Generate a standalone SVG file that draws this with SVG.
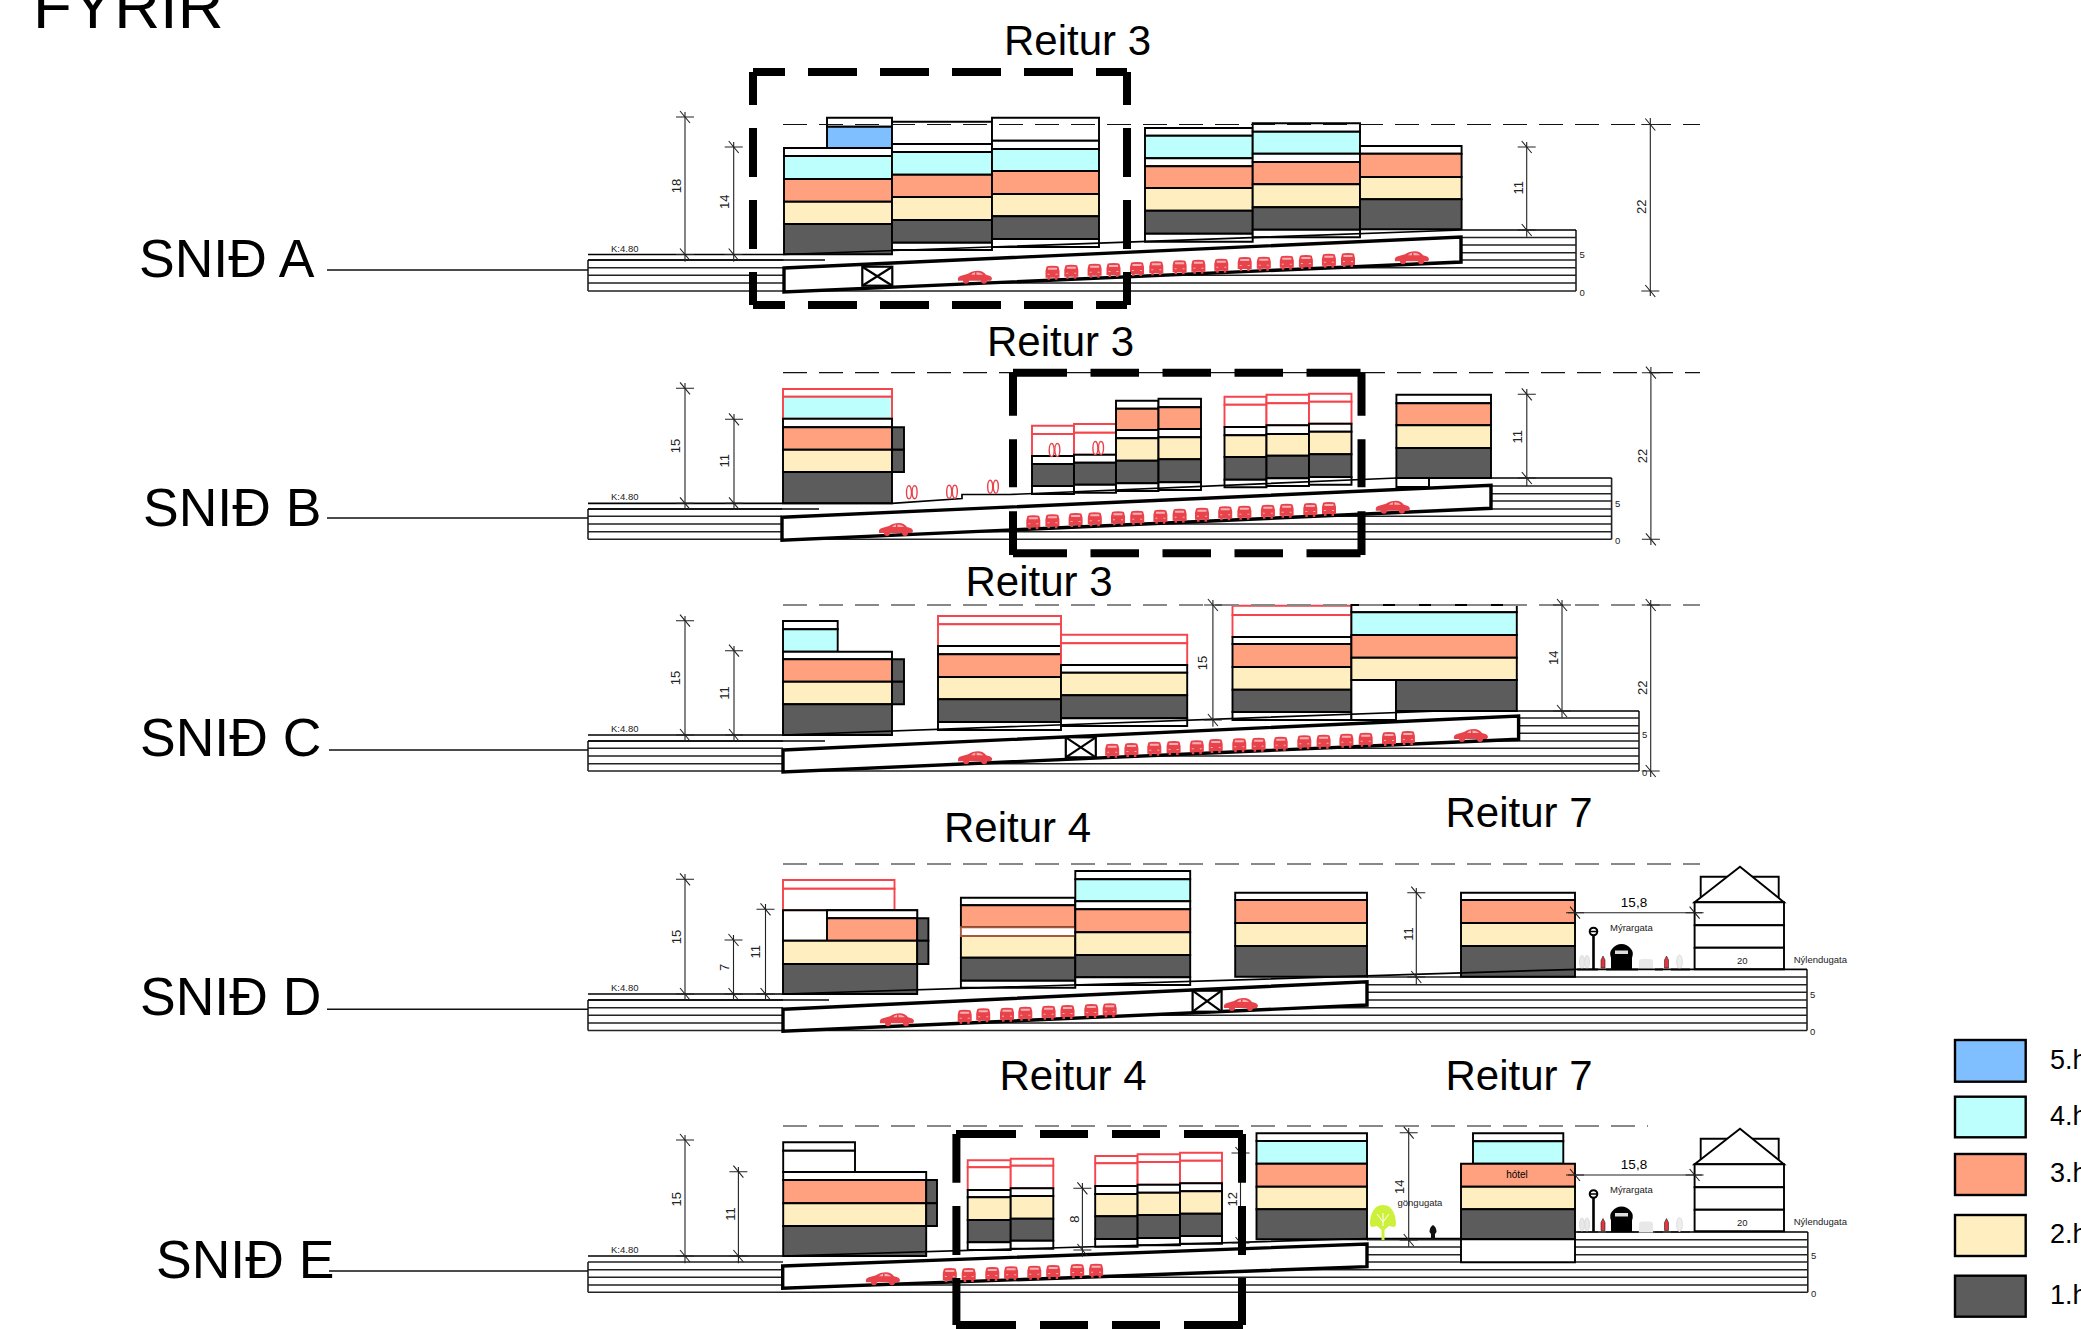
<svg xmlns="http://www.w3.org/2000/svg" width="2081" height="1329" viewBox="0 0 2081 1329">
<style>
text{font-family:"Liberation Sans",Arial,sans-serif;fill:#000}
.bl path{stroke:#000;stroke-width:1.9}
.d{fill:#5c5c5c}.c{fill:#ffeebf}.s{fill:#ffa07f}.y{fill:#bdfffd}.u{fill:#80bfff}.w{fill:#fff}
.bl path.r{fill:#fff;stroke:#f5444c}
.h{stroke:#222;stroke-width:1.6;fill:none}
.g{stroke:#000;stroke-width:1.7;fill:none}
.ramp{stroke:#000;stroke-width:3.4;fill:#fff}
.x{stroke:#000;stroke-width:2.2;fill:#fff}
.box{stroke:#000;stroke-width:8;fill:none}
.dim{stroke:#222;stroke-width:1.1;fill:none}
.lead{stroke:#111;stroke-width:1.6;fill:none}
.da{stroke:#111;stroke-width:1.2;fill:none;stroke-dasharray:24 12}
.db{stroke:#888;stroke-width:2;fill:none;stroke-dasharray:24 12}
.rt{font-size:42px}.sn{font-size:53.5px}
.m{font-size:13px;text-anchor:middle;fill:#222}
.n{font-size:9.5px;fill:#222}
.lg{font-size:27px}
.lr{stroke:#000;stroke-width:2.4}
</style>
<defs>
<g id="car"><path fill="#e8434b" d="M-7-2-6-6Q-5-7 0-7 5-7 6-6L7-2V5H5V7H2.5V5H-2.5V7H-5V5H-7Z"/><path fill="#f9b0b4" d="M-4.5-5H4.500V-3H-4.500ZM-5 1H-3V2H-5ZM3 1H5V2H3Z"/></g>
<g id="bigcar"><path fill="#e8434b" d="M-17 4Q-18 0-14-1L-7-3Q-3-6 3-6 8-6 11-2 17-1 17 2L16 4H12A3 3 0 0 1 6 4H-6A3 3 0 0 1-12 4Z"/><path fill="#f9b0b4" d="M-4-2Q-2-4.500 0-4.500V-2ZM1.500-4.500Q6-4.500 8-2H1.500Z"/></g>
<path id="t" class="dim" d="M-9 0H9M-5-6 5 6"/>
<g id="pp"><ellipse cx="-2.800" cy="0" rx="2.500" ry="6.500" fill="#fff" stroke="#e8434b" stroke-width="1.400"/><ellipse cx="2.800" cy="0" rx="2.500" ry="6.500" fill="#fff" stroke="#e8434b" stroke-width="1.400"/></g>
<g id="furn">
<path d="M1577 969.500H1598M1606 969.500H1638M1655 969.500H1663M1671 969.500H1690" stroke="#222" stroke-width="1.800" fill="none"/>
<ellipse cx="1582" cy="962" rx="2.500" ry="6.500" fill="#e8e8e8" stroke="#ddd"/><ellipse cx="1587" cy="962" rx="2.500" ry="6.500" fill="#e8e8e8" stroke="#ddd"/>
<ellipse cx="1679.500" cy="962" rx="2.800" ry="7" fill="#eee" stroke="#ddd"/>
<path d="M1593.500 935V969" stroke="#000" stroke-width="2.600"/>
<circle cx="1593.500" cy="931.500" r="3.800" fill="#fff" stroke="#000" stroke-width="2"/><path d="M1590 931.500H1597" stroke="#000" stroke-width="1.500"/>
<path d="M1611 969.500V958Q1609 952 1612 949 1616 944 1621.500 944 1627 944 1631 949 1634 952 1632 958V969.500Z" fill="#000"/><rect x="1615" y="950.500" width="13" height="3.500" fill="#ddd"/>
<path d="M1639 970V962Q1639 959 1642 959H1650Q1653 959 1653 962V970Z" fill="#e8e8e8"/>
<path d="M1603 956 1605 960V968H1601V960ZM1666.500 956 1668.500 960V968H1664.500V960Z" fill="#e8333b" stroke="#222" stroke-width=".600"/>
</g>
<g id="house" class="bl">
<path class="w" d="M1700.700 876.700H1778.700V902.300H1700.700Z"/>
<path class="w" d="M1694.600 902.300 1740 866.700 1784 902.300Z"/>
<path class="w" d="M1694.600 902.300H1784V925.300H1694.600Z"/>
<path class="w" d="M1694.600 925.300H1784V947.700H1694.600Z"/>
<path class="w" d="M1694.600 947.700H1784V969.300H1694.600Z"/>
</g>
</defs>
<rect width="2081" height="1329" fill="#fff"/>
<text id="title" x="33" y="28" font-size="63.5">FYRIR</text>

<!-- SECTION A -->
<g id="section-a">
<path class="h" d="M1461 237.500H1576M1461 245H1576M1461 252.700H1576M588 260H1576M588 267.700H1576M588 275.300H1576M588 283H1576M588 291H1576M588 260V291M1576 230V291"/>
<polygon points="783,254.500 1462,230 1461,237 784,268" fill="#fff"/>
<g id="a-b1" class="bl"><path class="w" d="M784 148H892V156H784Z"/><path class="w" d="M827 117.700H892V126.700H827Z"/><path class="u" d="M827 126.700H892V148H827Z"/><path class="y" d="M784 156H892V179H784Z"/><path class="s" d="M784 179H892V201.700H784Z"/><path class="c" d="M784 201.700H892V224H784Z"/><path class="d" d="M784 224H892V254.300H784Z"/></g>
<g id="a-b2" class="bl"><path class="w" d="M892 121.700H992V144H892Z"/><path class="w" d="M892 144H992V152H892Z"/><path class="y" d="M892 152H992V174.700H892Z"/><path class="s" d="M892 174.700H992V197H892Z"/><path class="c" d="M892 197H992V220H892Z"/><path class="d" d="M892 220H992V242.700H892Z"/><path class="w" d="M892 242.700H992V250H892Z"/></g>
<g id="a-b3" class="bl"><path class="w" d="M992 117.700H1099V140.700H992Z"/><path class="w" d="M992 140.700H1099V149H992Z"/><path class="y" d="M992 149H1099V171H992Z"/><path class="s" d="M992 171H1099V194H992Z"/><path class="c" d="M992 194H1099V216.300H992Z"/><path class="d" d="M992 216.300H1099V239H992Z"/><path class="w" d="M992 239H1099V247H992Z"/></g>
<g id="a-b4" class="bl"><path class="w" d="M1145 128H1252.700V135.700H1145Z"/><path class="y" d="M1145 135.700H1252.700V158.300H1145Z"/><path class="w" d="M1145 158.300H1252.700V166.300H1145Z"/><path class="s" d="M1145 166.300H1252.700V188H1145Z"/><path class="c" d="M1145 188H1252.700V210.700H1145Z"/><path class="d" d="M1145 210.700H1252.700V233.700H1145Z"/><path class="w" d="M1145 233.700H1252.700V241.700H1145Z"/></g>
<g id="a-b5" class="bl"><path class="w" d="M1252.700 123.300H1360V131.700H1252.700Z"/><path class="y" d="M1252.700 131.700H1360V153.700H1252.700Z"/><path class="w" d="M1252.700 153.700H1360V162H1252.700Z"/><path class="s" d="M1252.700 162H1360V184.300H1252.700Z"/><path class="c" d="M1252.700 184.300H1360V207.300H1252.700Z"/><path class="d" d="M1252.700 207.300H1360V229.700H1252.700Z"/><path class="w" d="M1252.700 229.700H1360V237.300H1252.700Z"/></g>
<g id="a-b6" class="bl"><path class="w" d="M1360 146H1461.600V153.700H1360Z"/><path class="s" d="M1360 153.700H1461.600V177H1360Z"/><path class="c" d="M1360 177H1461.600V199.300H1360Z"/><path class="d" d="M1360 199.300H1461.600V229.300H1360Z"/></g>
<path class="g" d="M588 254.500H783L1462 230H1576M588 260H825"/>
<polygon class="ramp" points="784,268 1461,237 1461,262 784,292"/>
<g id="a-x"><rect class="x" x="862.300" y="266.700" width="30" height="19"/><path class="x" d="M862.300 266.700 892.300 285.700M892.300 266.700 862.300 285.700"/></g>
<g id="a-cars"><use href="#bigcar" x="975" y="276.700"/><use href="#car" x="1052.500" y="272.700"/><use href="#car" x="1071.300" y="271.700"/><use href="#car" x="1094.600" y="270.700"/><use href="#car" x="1113.500" y="270"/><use href="#car" x="1137" y="269"/><use href="#car" x="1156.300" y="268.300"/><use href="#car" x="1179.600" y="267.300"/><use href="#car" x="1198.400" y="266.700"/><use href="#car" x="1221.300" y="265.700"/><use href="#car" x="1244.700" y="264"/><use href="#car" x="1263.800" y="263.700"/><use href="#car" x="1286.800" y="262.700"/><use href="#car" x="1305.900" y="262"/><use href="#car" x="1328.900" y="260.700"/><use href="#car" x="1348" y="260"/><use href="#bigcar" x="1412" y="257.300"/></g>
</g>

<!-- SECTION B -->
<g id="section-b">
<path class="h" d="M1491 486H1611.600M1491 493.700H1611.600M1491 501H1611.600M588 509H1611.600M588 516.300H1611.600M588 524H1611.600M588 531.700H1611.600M588 539.300H1611.600M588 509V539.300M1611.600 478V539.300"/>
<polygon points="782,503.300 892,503.300 962,498.500 962,494.500 1010,494.500 1397,478 1491,478 1491,485 782,517" fill="#fff"/>
<g id="b-b1" class="bl"><path class="r" d="M783 389H892V396.700H783Z"/><path class="y" style="stroke:#f5444c" d="M783 396.700H892V418.700H783Z"/><path class="w" d="M783 418.700H892V427.300H783Z"/><path class="s" d="M783 427.300H892V449.700H783Z"/><path class="c" d="M783 449.700H892V472H783Z"/><path class="d" d="M783 472H892V503.300H783Z"/><path class="d" d="M892 427.300H904V449.700H892Z"/><path class="d" d="M892 449.700H904V472H892Z"/></g>
<g id="b-c1" class="bl"><path class="r" d="M1032 425.700H1074V434H1032Z"/><path class="r" d="M1032 434H1074V456H1032Z"/><path class="w" d="M1032 456H1074V464H1032Z"/><path class="d" d="M1032 464H1074V486H1032Z"/><path class="w" d="M1032 486H1074V494H1032Z"/></g>
<g id="b-c2" class="bl"><path class="r" d="M1074 424H1116V432.700H1074Z"/><path class="r" d="M1074 432.700H1116V454.700H1074Z"/><path class="w" d="M1074 454.700H1116V462.700H1074Z"/><path class="d" d="M1074 462.700H1116V484.700H1074Z"/><path class="w" d="M1074 484.700H1116V492.700H1074Z"/></g>
<g id="b-c3" class="bl"><path class="w" d="M1116 400.700H1158.500V408.700H1116Z"/><path class="s" d="M1116 408.700H1158.500V430H1116Z"/><path class="w" d="M1116 430H1158.500V438.300H1116Z"/><path class="c" d="M1116 438.300H1158.500V460.700H1116Z"/><path class="d" d="M1116 460.700H1158.500V483.300H1116Z"/><path class="w" d="M1116 483.300H1158.500V491H1116Z"/></g>
<g id="b-c4" class="bl"><path class="w" d="M1158.500 398.700H1201V407.300H1158.500Z"/><path class="s" d="M1158.500 407.300H1201V429H1158.500Z"/><path class="w" d="M1158.500 429H1201V437.300H1158.500Z"/><path class="c" d="M1158.500 437.300H1201V459.300H1158.500Z"/><path class="d" d="M1158.500 459.300H1201V482.300H1158.500Z"/><path class="w" d="M1158.500 482.300H1201V490H1158.500Z"/></g>
<g id="b-c5" class="bl"><path class="r" d="M1224.500 396.700H1266.500V404.700H1224.500Z"/><path class="r" d="M1224.500 404.700H1266.500V427H1224.500Z"/><path class="w" d="M1224.500 427H1266.500V435.300H1224.500Z"/><path class="c" d="M1224.500 435.300H1266.500V457H1224.500Z"/><path class="d" d="M1224.500 457H1266.500V479.700H1224.500Z"/><path class="w" d="M1224.500 479.700H1266.500V487.300H1224.500Z"/></g>
<g id="b-c6" class="bl"><path class="r" d="M1266.500 394.700H1309V403.300H1266.500Z"/><path class="r" d="M1266.500 403.300H1309V425.300H1266.500Z"/><path class="w" d="M1266.500 425.300H1309V434H1266.500Z"/><path class="c" d="M1266.500 434H1309V455.700H1266.500Z"/><path class="d" d="M1266.500 455.700H1309V478.300H1266.500Z"/><path class="w" d="M1266.500 478.300H1309V486H1266.500Z"/></g>
<g id="b-c7" class="bl"><path class="r" d="M1309 393.700H1351.500V401.700H1309Z"/><path class="r" d="M1309 401.700H1351.500V423.700H1309Z"/><path class="w" d="M1309 423.700H1351.500V431.700H1309Z"/><path class="c" d="M1309 431.700H1351.500V454.300H1309Z"/><path class="d" d="M1309 454.300H1351.500V477H1309Z"/><path class="w" d="M1309 477H1351.500V484.700H1309Z"/></g>
<g id="b-c8" class="bl"><path class="w" d="M1396.400 394.700H1491V403.300H1396.400Z"/><path class="s" d="M1396.400 403.300H1491V425.300H1396.400Z"/><path class="c" d="M1396.400 425.300H1491V448H1396.400Z"/><path class="d" d="M1396.400 448H1491V478H1396.400Z"/><path class="w" d="M1396.400 478H1429V487H1396.400Z"/></g>
<path class="g" d="M588 503.300H892L962 498.500V494.500H1010L1397 478H1611.600M588 509H819"/>
<g id="b-people"><use href="#pp" x="911.800" y="492.300"/><use href="#pp" x="952" y="491.700"/><use href="#pp" x="993" y="486.700"/><use href="#pp" x="1054.500" y="450"/><use href="#pp" x="1098.200" y="448"/></g>
<polygon class="ramp" points="782,517.300 1491,485.300 1491,508.300 782,540.300"/>
<g id="b-cars"><use href="#bigcar" x="896" y="529"/><use href="#car" x="1033.300" y="522.300"/><use href="#car" x="1052.400" y="521.300"/><use href="#car" x="1075.600" y="520"/><use href="#car" x="1094.800" y="519.300"/><use href="#car" x="1118" y="518.300"/><use href="#car" x="1137.200" y="517.700"/><use href="#car" x="1160.400" y="516.700"/><use href="#car" x="1179.600" y="515.700"/><use href="#car" x="1202" y="514.700"/><use href="#car" x="1225.200" y="513.300"/><use href="#car" x="1244.400" y="512.700"/><use href="#car" x="1267.900" y="511.700"/><use href="#car" x="1286.600" y="510.700"/><use href="#car" x="1310.300" y="510"/><use href="#car" x="1329" y="509"/><use href="#bigcar" x="1392.900" y="506.700"/></g>
</g>

<!-- SECTION C -->
<g id="section-c">
<path class="h" d="M1518 718H1639M1518 725.700H1639M1518 733.300H1639M588 741H1639M588 748.300H1639M588 756H1639M588 763.700H1639M588 771H1639M588 741V771M1639 711V771"/>
<polygon points="783,735 1440,711 1518,711 1518,716 783,750" fill="#fff"/>
<g id="c-b1" class="bl"><path class="w" d="M783 621H837.700V629.300H783Z"/><path class="y" d="M783 629.300H837.700V651.700H783Z"/><path class="w" d="M783 651.700H892V659.300H783Z"/><path class="s" d="M783 659.300H892V681.700H783Z"/><path class="c" d="M783 681.700H892V704.300H783Z"/><path class="d" d="M783 704.300H892V735H783Z"/><path class="d" d="M892 659.300H904V681.700H892Z"/><path class="d" d="M892 681.700H904V704.300H892Z"/></g>
<g id="c-b2" class="bl"><path class="r" d="M938 616H1061V624.300H938Z"/><path class="r" d="M938 624.300H1061V646H938Z"/><path class="w" d="M938 646H1061V654.300H938Z"/><path class="s" d="M938 654.300H1061V677H938Z"/><path class="c" d="M938 677H1061V699.300H938Z"/><path class="d" d="M938 699.300H1061V722H938Z"/><path class="w" d="M938 722H1061V730H938Z"/></g>
<g id="c-b3" class="bl"><path class="r" d="M1061 634.700H1187.200V643.300H1061Z"/><path class="r" d="M1061 643.300H1187.200V665H1061Z"/><path class="w" d="M1061 665H1187.200V672.700H1061Z"/><path class="c" d="M1061 672.700H1187.200V695.300H1061Z"/><path class="d" d="M1061 695.300H1187.200V718.300H1061Z"/><path class="w" d="M1061 718.300H1187.200V726H1061Z"/></g>
<g id="c-b4" class="bl"><path class="r" d="M1232.500 605.700H1351.400V615H1232.500Z"/><path class="r" d="M1232.500 615H1351.400V637H1232.500Z"/><path class="w" d="M1232.500 637H1351.400V644H1232.500Z"/><path class="s" d="M1232.500 644H1351.400V667H1232.500Z"/><path class="c" d="M1232.500 667H1351.400V689.700H1232.500Z"/><path class="d" d="M1232.500 689.700H1351.400V712H1232.500Z"/><path class="w" d="M1232.500 712H1351.400V720H1232.500Z"/></g>
<g id="c-b5" class="bl"><path class="w" d="M1351.400 605H1516.800V612.300H1351.400Z"/><path class="y" d="M1351.400 612.300H1516.800V635H1351.400Z"/><path class="s" d="M1351.400 635H1516.800V657.700H1351.400Z"/><path class="c" d="M1351.400 657.700H1516.800V680H1351.400Z"/><path class="w" d="M1351.400 680H1396V720H1351.400Z"/><path class="d" d="M1396 680H1516.800V711H1396Z"/></g>
<path class="g" d="M588 735H783L1440 711H1639M588 741H825"/>
<polygon class="ramp" points="783,750 1518.600,716 1518.600,739.300 783,772"/>
<g id="c-x"><rect class="x" x="1065.800" y="737.300" width="30" height="20"/><path class="x" d="M1065.800 737.300 1095.800 757.300M1095.800 737.300 1065.800 757.300"/></g>
<g id="c-cars"><use href="#bigcar" x="975.200" y="757.300"/><use href="#car" x="1112.200" y="750.700"/><use href="#car" x="1131.400" y="750"/><use href="#car" x="1154.300" y="748.700"/><use href="#car" x="1173.600" y="748"/><use href="#car" x="1196.800" y="747.300"/><use href="#car" x="1215.700" y="746"/><use href="#car" x="1239.300" y="745.300"/><use href="#car" x="1258.600" y="744.700"/><use href="#car" x="1280.700" y="743.700"/><use href="#car" x="1304.300" y="742.300"/><use href="#car" x="1323.600" y="741.700"/><use href="#car" x="1346.400" y="740.700"/><use href="#car" x="1365.700" y="739.700"/><use href="#car" x="1389" y="739"/><use href="#car" x="1407.900" y="738"/><use href="#bigcar" x="1471" y="735"/></g>
</g>

<!-- SECTION D -->
<g id="section-d">
<path class="h" d="M1367 977H1807M1367 984.700H1807M1367 992.300H1807M588 1000H1807M588 1007.700H1807M588 1015.300H1807M588 1023H1807M588 1030.500H1807M588 1000V1030.500M1807 969.300V1030.500"/>
<polygon points="783,994 1367,975.800 1367,981.700 783,1009.300" fill="#fff"/>
<g id="d-b1" class="bl"><path class="r" d="M783 880H894.500V888.700H783Z"/><path class="r" d="M783 888.700H894.500V910.300H783Z"/><path class="w" d="M783 910.300H917.200V940.700H783Z"/><path class="w" d="M827 910.300H917.200V918.300H827Z"/><path class="s" d="M827 918.300H917.200V940.700H827Z"/><path class="c" d="M783 940.700H917.200V964H783Z"/><path class="d" d="M783 964H917.200V994H783Z"/><path class="d" d="M917.200 918.300H928.400V940.700H917.200Z"/><path class="d" d="M917.200 940.700H928.400V964H917.200Z"/></g>
<g id="d-b2" class="bl"><path class="w" d="M960.900 897.700H1075.300V905.300H960.900Z"/><path class="s" d="M960.900 905.300H1075.300V927.300H960.900Z"/><path class="c" d="M960.900 936H1075.300V957.700H960.900Z"/><path class="d" d="M960.900 957.700H1075.300V980.700H960.900Z"/><path class="w" d="M960.900 980.700H1075.300V987.700H960.900Z"/><path class="w" style="stroke:#a5583c" d="M960.900 927.300H1075.300V936H960.900Z"/></g>
<g id="d-b3" class="bl"><path class="w" d="M1075.300 871H1190.200V879.300H1075.300Z"/><path class="y" d="M1075.300 879.300H1190.200V901.300H1075.300Z"/><path class="w" d="M1075.300 901.300H1190.200V909.300H1075.300Z"/><path class="s" d="M1075.300 909.300H1190.200V932.300H1075.300Z"/><path class="c" d="M1075.300 932.300H1190.200V955H1075.300Z"/><path class="d" d="M1075.300 955H1190.200V977.300H1075.300Z"/><path class="w" d="M1075.300 977.300H1190.200V985H1075.300Z"/></g>
<g id="d-b4" class="bl"><path class="w" d="M1235.200 892.700H1367V900H1235.200Z"/><path class="s" d="M1235.200 900H1367V923H1235.200Z"/><path class="c" d="M1235.200 923H1367V946H1235.200Z"/><path class="d" d="M1235.200 946H1367V976.700H1235.200Z"/></g>
<g id="d-b5" class="bl"><path class="w" d="M1461 892.700H1575V900H1461Z"/><path class="s" d="M1461 900H1575V923H1461Z"/><path class="c" d="M1461 923H1575V946H1461Z"/><path class="d" d="M1461 946H1575V976.700H1461Z"/></g>
<g id="d-house"><use href="#house"/></g>
<g id="d-street"><use href="#furn"/></g>
<path class="g" d="M588 994H783L1577 969.300H1807M588 1000H829"/>
<polygon class="ramp" points="783,1009.300 1367,981.700 1367,1005 783,1031.300"/>
<g id="d-x"><rect class="x" x="1192.600" y="990.700" width="29" height="21"/><path class="x" d="M1192.600 990.700 1221.600 1011.700M1221.600 990.700 1192.600 1011.700"/></g>
<g id="d-cars"><use href="#bigcar" x="897" y="1019.300"/><use href="#car" x="964.700" y="1016.700"/><use href="#car" x="983.200" y="1015.300"/><use href="#car" x="1007" y="1014.700"/><use href="#car" x="1025.300" y="1013.700"/><use href="#car" x="1048.600" y="1012.700"/><use href="#car" x="1067.500" y="1012"/><use href="#car" x="1091.300" y="1011"/><use href="#car" x="1109.700" y="1010.300"/><use href="#bigcar" x="1241" y="1004"/></g>
</g>

<!-- SECTION E -->
<g id="section-e">
<path class="h" d="M1367 1239.700H1807.800M1367 1247H1807.800M1367 1254.700H1807.800M588 1262H1807.800M588 1269.700H1807.800M588 1277.300H1807.800M588 1285H1807.800M588 1292.300H1807.800M588 1262V1292.300M1807.800 1232V1292.300"/>
<polygon points="783,1256 1367,1238.500 1367,1244 783,1266" fill="#fff"/>
<g id="e-b1" class="bl"><path class="w" d="M783.200 1142.300H855V1150.700H783.200Z"/><path class="w" d="M783.200 1150.700H855V1172H783.200Z"/><path class="w" d="M783.200 1172H926.200V1180H783.200Z"/><path class="s" d="M783.200 1180H926.200V1203.300H783.200Z"/><path class="c" d="M783.200 1203.300H926.200V1226H783.200Z"/><path class="d" d="M783.200 1226H926.200V1256H783.200Z"/><path class="d" d="M926.200 1180H937V1203.300H926.200Z"/><path class="d" d="M926.200 1203.300H937V1226H926.200Z"/></g>
<g id="e-b2" class="bl"><path class="r" d="M967.700 1160.300H1010.700V1167.300H967.700Z"/><path class="r" d="M967.700 1167.300H1010.700V1190H967.700Z"/><path class="w" d="M967.700 1190H1010.700V1197.300H967.700Z"/><path class="c" d="M967.700 1197.300H1010.700V1220H967.700Z"/><path class="d" d="M967.700 1220H1010.700V1242.300H967.700Z"/><path class="w" d="M967.700 1242.300H1010.700V1250H967.700Z"/></g>
<g id="e-b3" class="bl"><path class="r" d="M1010.700 1158.700H1053.300V1165.700H1010.700Z"/><path class="r" d="M1010.700 1165.700H1053.300V1188.300H1010.700Z"/><path class="w" d="M1010.700 1188.300H1053.300V1196H1010.700Z"/><path class="c" d="M1010.700 1196H1053.300V1218.700H1010.700Z"/><path class="d" d="M1010.700 1218.700H1053.300V1240.700H1010.700Z"/><path class="w" d="M1010.700 1240.700H1053.300V1248.700H1010.700Z"/></g>
<g id="e-b4" class="bl"><path class="r" d="M1095.200 1156H1137.600V1163.300H1095.200Z"/><path class="r" d="M1095.200 1163.300H1137.600V1186H1095.200Z"/><path class="w" d="M1095.200 1186H1137.600V1194H1095.200Z"/><path class="c" d="M1095.200 1194H1137.600V1216.300H1095.200Z"/><path class="d" d="M1095.200 1216.300H1137.600V1239H1095.200Z"/><path class="w" d="M1095.200 1239H1137.600V1246.700H1095.200Z"/></g>
<g id="e-b5" class="bl"><path class="r" d="M1137.600 1154.300H1180V1162H1137.600Z"/><path class="r" d="M1137.600 1162H1180V1184.700H1137.600Z"/><path class="w" d="M1137.600 1184.700H1180V1192.700H1137.600Z"/><path class="c" d="M1137.600 1192.700H1180V1215H1137.600Z"/><path class="d" d="M1137.600 1215H1180V1238H1137.600Z"/><path class="w" d="M1137.600 1238H1180V1245.300H1137.600Z"/></g>
<g id="e-b6" class="bl"><path class="r" d="M1180 1152.700H1222V1160.700H1180Z"/><path class="r" d="M1180 1160.700H1222V1183.300H1180Z"/><path class="w" d="M1180 1183.300H1222V1191.300H1180Z"/><path class="c" d="M1180 1191.300H1222V1213.700H1180Z"/><path class="d" d="M1180 1213.700H1222V1236H1180Z"/><path class="w" d="M1180 1236H1222V1243.700H1180Z"/></g>
<g id="e-b7" class="bl"><path class="w" d="M1256.500 1133.300H1367V1141H1256.500Z"/><path class="y" d="M1256.500 1141H1367V1163.700H1256.500Z"/><path class="s" d="M1256.500 1163.700H1367V1186.700H1256.500Z"/><path class="c" d="M1256.500 1186.700H1367V1209.300H1256.500Z"/><path class="d" d="M1256.500 1209.300H1367V1239.300H1256.500Z"/></g>
<path class="g" d="M588 1256H783L1367 1238.500H1461M1575 1232H1807.800"/>
<g id="e-hotel"><g class="bl"><path class="w" d="M1473 1133.300H1563.300V1141.300H1473Z"/><path class="y" d="M1473 1141.300H1563.300V1163.700H1473Z"/><path class="s" d="M1461 1163.700H1575V1186.700H1461Z"/><path class="c" d="M1461 1186.700H1575V1209.300H1461Z"/><path class="d" d="M1461 1209.300H1575V1239.300H1461Z"/><path class="w" d="M1461 1239.300H1575V1262.300H1461Z"/></g><text x="1517" y="1178" font-size="10" text-anchor="middle" fill="#222">hótel</text></g>
<g id="e-house"><use href="#house" y="262"/></g>
<g id="e-street"><use href="#furn" y="262.500"/></g>
<g id="e-tree"><path d="M1383 1240V1226" stroke="#cdf03a" stroke-width="3"/><path d="M1383 1205C1373 1205 1370 1216 1370 1224 1370 1228 1374 1227 1377 1226L1383 1231 1389 1226C1392 1227 1396 1228 1396 1224 1396 1216 1393 1205 1383 1205Z" fill="#cdf03a"/><path d="M1383 1226V1213M1383 1222 1377 1214M1383 1222 1389 1214" stroke="#fff" stroke-width="1"/></g>
<path id="e-person" d="M1433 1225Q1436.500 1227 1436.500 1232L1435 1234V1239H1431V1234L1429.500 1232Q1429.500 1227 1433 1225Z" fill="#111"/>
<polygon class="ramp" points="782.700,1266 1367,1244 1367,1266.700 782.700,1288.300"/>
<g id="e-cars"><use href="#bigcar" x="883" y="1278.300"/><use href="#car" x="949.800" y="1275"/><use href="#car" x="968.700" y="1275"/><use href="#car" x="992.300" y="1274"/><use href="#car" x="1011.100" y="1273.300"/><use href="#car" x="1034.300" y="1272.700"/><use href="#car" x="1053.200" y="1272"/><use href="#car" x="1077.200" y="1271"/><use href="#car" x="1096.100" y="1270.700"/></g>
</g>

<!-- CONNECTORS -->
<g id="connectors">
<path class="lead" d="M327 270H588M327 518H588M329 750H588M327 1009.300H588M329 1271H588"/>
<path class="da" d="M783 124.500H1700"/>
<path class="da" d="M783 372.700H1013M1361 372.700H1700"/><path class="lead" style="stroke-width:1.200" d="M1013 372.700H1361"/>
<path class="db" d="M783 605H1700"/>
<path class="db" d="M783 864H1700"/>
<path class="db" d="M783 1126H1648"/>
<path class="dim" d="M685 112V261.700M733.700 142V261.700M1526.700 142V236.700M1650.300 118V296
M685 383V510M734 414V510M1526.800 389V486M1650.900 367V545
M685 616V741.700M734 646V741.700M1212.900 600V726.700M1562 600V717.700M1650.700 600V777
M685 874V1000.700M733.500 935V1000.700M765.500 904V1000.700M1416.300 888V984
M685 1135V1263.300M738.400 1167V1263.300M1082.400 1183V1256.700M1240.500 1148V1250M1408.700 1128V1246.700
M1568 912.700H1702M1568 1175H1702"/>
<g id="ticks">
<use href="#t" x="685" y="117"/><use href="#t" x="685" y="254.500"/><use href="#t" x="733.700" y="147"/><use href="#t" x="733.700" y="254.500"/><use href="#t" x="1526.700" y="147"/><use href="#t" x="1526.700" y="230"/><use href="#t" x="1650.300" y="124.500"/><use href="#t" x="1650.300" y="291"/>
<use href="#t" x="685" y="388.300"/><use href="#t" x="685" y="503.300"/><use href="#t" x="734" y="419.300"/><use href="#t" x="734" y="503.300"/><use href="#t" x="1526.800" y="394.300"/><use href="#t" x="1526.800" y="478"/><use href="#t" x="1650.900" y="372.700"/><use href="#t" x="1650.900" y="539.300"/>
<use href="#t" x="685" y="620.700"/><use href="#t" x="685" y="735"/><use href="#t" x="734" y="650.700"/><use href="#t" x="734" y="735"/><use href="#t" x="1212.900" y="605"/><use href="#t" x="1212.900" y="720"/><use href="#t" x="1562" y="605"/><use href="#t" x="1562" y="711"/><use href="#t" x="1650.700" y="605"/><use href="#t" x="1650.700" y="771"/>
<use href="#t" x="685" y="879.300"/><use href="#t" x="685" y="994"/><use href="#t" x="733.500" y="940"/><use href="#t" x="733.500" y="994"/><use href="#t" x="765.500" y="909.300"/><use href="#t" x="765.500" y="994"/><use href="#t" x="1416.300" y="892.700"/><use href="#t" x="1416.300" y="977"/><use href="#t" x="1575" y="912.700"/><use href="#t" x="1694.600" y="912.700"/>
<use href="#t" x="685" y="1140"/><use href="#t" x="685" y="1256"/><use href="#t" x="738.400" y="1171.700"/><use href="#t" x="738.400" y="1256"/><use href="#t" x="1082.400" y="1188.300"/><use href="#t" x="1082.400" y="1250"/><use href="#t" x="1240.500" y="1153"/><use href="#t" x="1240.500" y="1243"/><use href="#t" x="1408.700" y="1132.700"/><use href="#t" x="1408.700" y="1240"/><use href="#t" x="1575" y="1175"/><use href="#t" x="1694.600" y="1175"/>
</g>
</g>

<!-- REITUR BOXES -->
<g id="reitur-box-a">
<path class="box" stroke-dasharray="32 23 49 23 49 23 49 23 49 23 32" d="M753 72H1127"/><path class="box" stroke-dasharray="32 23 49 23 49 23 49 23 49 23 32" d="M753 305H1127"/>
<path class="box" stroke-dasharray="33 23 49 23 49 23 33" d="M753 72V305"/><path class="box" stroke-dasharray="33 23 49 23 49 23 33" d="M1127 72V305"/>
</g>
<g id="reitur-box-b">
<path class="box" stroke-dasharray="54 23.500 48.500 23.500 48.500 23.500 48.500 23.500 54" d="M1013 372.700H1361.500"/><path class="box" stroke-dasharray="54 23.500 48.500 23.500 48.500 23.500 48.500 23.500 54" d="M1013 553.300H1361.500"/>
<path class="box" stroke-dasharray="43 23.500 48 24 44" d="M1013 372.700V555"/><path class="box" stroke-dasharray="43 23.500 48 24 44" d="M1361.500 372.700V555"/>
</g>
<g id="reitur-box-e">
<path class="box" stroke-dasharray="60 24 48 24 48 24 60" d="M956 1134H1243"/><path class="box" stroke-dasharray="60 24 48 24 48 24 60" d="M956 1325H1243"/>
<path class="box" stroke-dasharray="48.700 23.300 49 23 47" d="M956.400 1134V1325"/><path class="box" stroke-dasharray="48.700 23.300 49 23 47" d="M1242 1134V1325"/>
</g>

<!-- LABELS -->
<g id="labels">
<text class="sn" x="139" y="276.700">SNIÐ A</text>
<text class="sn" x="143" y="526">SNIÐ B</text>
<text class="sn" x="140" y="756">SNIÐ C</text>
<text class="sn" x="140" y="1015">SNIÐ D</text>
<text class="sn" x="156" y="1278">SNIÐ E</text>
<text class="rt" x="1004" y="55">Reitur 3</text>
<text class="rt" x="987" y="356">Reitur 3</text>
<text class="rt" x="965.500" y="596">Reitur 3</text>
<text class="rt" x="944" y="842">Reitur 4</text>
<text class="rt" x="1445.500" y="827">Reitur 7</text>
<text class="rt" x="999.500" y="1090">Reitur 4</text>
<text class="rt" x="1445.500" y="1090">Reitur 7</text>
<text class="n" x="611" y="251.500">K:4.80</text><text class="n" x="611" y="500">K:4.80</text><text class="n" x="611" y="732">K:4.80</text><text class="n" x="611" y="991">K:4.80</text><text class="n" x="611" y="1253">K:4.80</text>
<text class="n" x="1579.500" y="258">5</text><text class="n" x="1579.500" y="295.700">0</text>
<text class="n" x="1615" y="506.700">5</text><text class="n" x="1615" y="544">0</text>
<text class="n" x="1642" y="738">5</text><text class="n" x="1642" y="776">0</text>
<text class="n" x="1810" y="997.700">5</text><text class="n" x="1810" y="1035">0</text>
<text class="n" x="1811" y="1259.300">5</text><text class="n" x="1811" y="1296.700">0</text>
<text class="m" transform="rotate(-90 681 186)" x="681" y="186">18</text>
<text class="m" transform="rotate(-90 729 201.700)" x="729" y="201.700">14</text>
<text class="m" transform="rotate(-90 1523 187.700)" x="1523" y="187.700">11</text>
<text class="m" transform="rotate(-90 1646.500 206.700)" x="1646.500" y="206.700">22</text>
<text class="m" transform="rotate(-90 680 446)" x="680" y="446">15</text>
<text class="m" transform="rotate(-90 729 460.700)" x="729" y="460.700">11</text>
<text class="m" transform="rotate(-90 1522.500 436.700)" x="1522.500" y="436.700">11</text>
<text class="m" transform="rotate(-90 1646.500 456)" x="1646.500" y="456">22</text>
<text class="m" transform="rotate(-90 680 678)" x="680" y="678">15</text>
<text class="m" transform="rotate(-90 729 693)" x="729" y="693">11</text>
<text class="m" transform="rotate(-90 1207 663)" x="1207" y="663">15</text>
<text class="m" transform="rotate(-90 1558 657.700)" x="1558" y="657.700">14</text>
<text class="m" transform="rotate(-90 1647 687.700)" x="1647" y="687.700">22</text>
<text class="m" transform="rotate(-90 680.500 937)" x="680.500" y="937">15</text>
<text class="m" transform="rotate(-90 729.500 967.300)" x="729.500" y="967.300">7</text>
<text class="m" transform="rotate(-90 760.500 951.700)" x="760.500" y="951.700">11</text>
<text class="m" transform="rotate(-90 1413 934)" x="1413" y="934">11</text>
<text class="m" transform="rotate(-90 681 1199.300)" x="681" y="1199.300">15</text>
<text class="m" transform="rotate(-90 734.500 1214)" x="734.500" y="1214">11</text>
<text class="m" transform="rotate(-90 1078.500 1219)" x="1078.500" y="1219">8</text>
<text class="m" transform="rotate(-90 1237 1199.300)" x="1237" y="1199.300">12</text>
<text class="m" transform="rotate(-90 1404.500 1186.700)" x="1404.500" y="1186.700">14</text>
<text x="1634" y="907" font-size="13.500" text-anchor="middle" fill="#222">15,8</text>
<text x="1634" y="1169" font-size="13.500" text-anchor="middle" fill="#222">15,8</text>
<text class="n" x="1610" y="931">Mýrargata</text><text class="n" x="1610" y="1193.300">Mýrargata</text>
<text class="n" x="1737" y="964">20</text><text class="n" x="1737" y="1226">20</text>
<text class="n" x="1793.700" y="963">Nýlendugata</text><text class="n" x="1793.700" y="1225">Nýlendugata</text>
<text class="n" x="1397.500" y="1206">göngugata</text>
</g>

<!-- LEGEND -->
<g id="legend-5"><rect class="u lr" x="1955" y="1040" width="70.700" height="41.700"/><text class="lg" x="2050" y="1069">5.h</text></g>
<g id="legend-4"><rect class="y lr" x="1955" y="1096.700" width="70.700" height="40.600"/><text class="lg" x="2050" y="1125">4.h</text></g>
<g id="legend-3"><rect class="s lr" x="1955" y="1154" width="70.700" height="41"/><text class="lg" x="2050" y="1182.300">3.h</text></g>
<g id="legend-2"><rect class="c lr" x="1955" y="1215" width="70.700" height="41"/><text class="lg" x="2050" y="1243.300">2.h</text></g>
<g id="legend-1"><rect class="d lr" x="1955" y="1275.700" width="70.700" height="41"/><text class="lg" x="2050" y="1304.300">1.h</text></g>
</svg>
